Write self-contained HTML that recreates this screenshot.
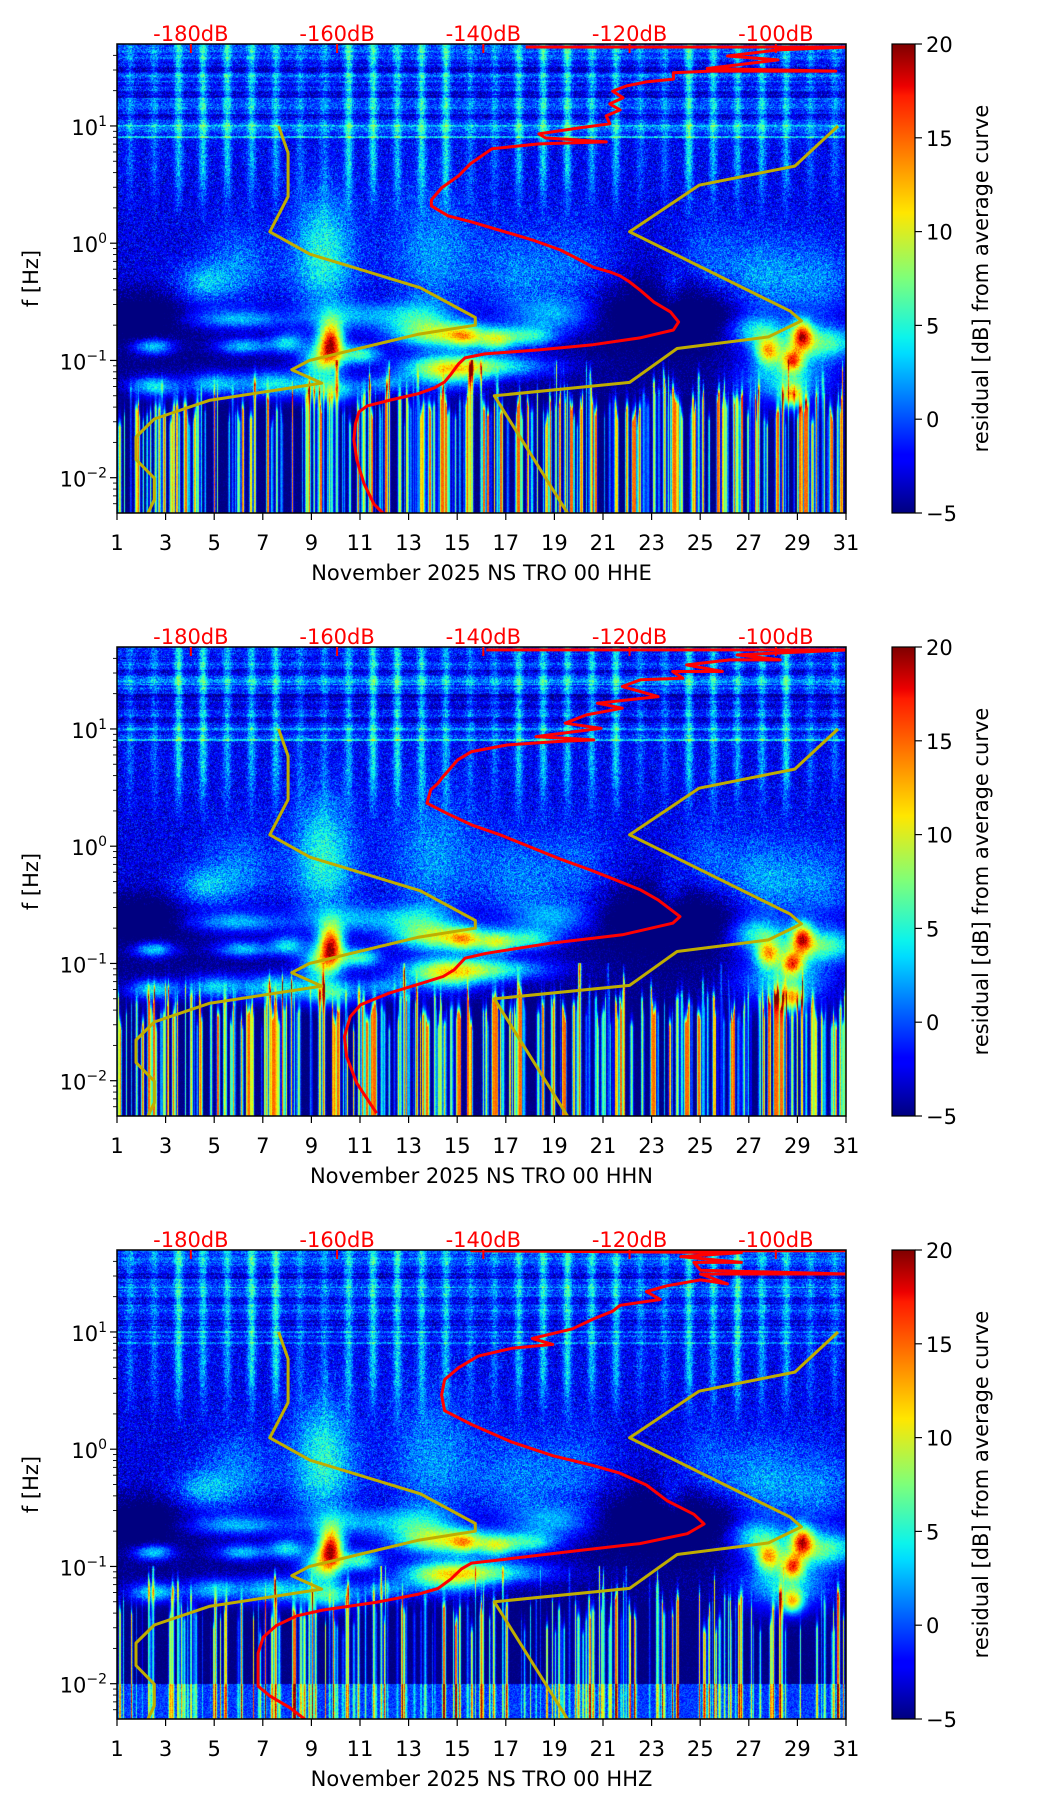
<!DOCTYPE html>
<html><head><meta charset="utf-8">
<style>
html,body{margin:0;padding:0;background:#fff;}
body{width:1052px;height:1806px;position:relative;overflow:hidden;font-family:"DejaVu Sans","Liberation Sans",sans-serif;}
canvas{position:absolute;}
svg{position:absolute;left:0;top:0;}
</style></head>
<body>
<canvas id="c0" width="729" height="469" style="left:117px;top:44px"></canvas>
<canvas id="c1" width="729" height="469" style="left:117px;top:647px"></canvas>
<canvas id="c2" width="729" height="469" style="left:117px;top:1250px"></canvas>
<svg id="svg" width="1052" height="1806" xmlns="http://www.w3.org/2000/svg">
<defs>
<linearGradient id="jet" x1="0" y1="1" x2="0" y2="0">
<stop offset="0" stop-color="#00007f"/><stop offset="0.11" stop-color="#0000ff"/><stop offset="0.125" stop-color="#0000ff"/>
<stop offset="0.34" stop-color="#00dcff"/><stop offset="0.375" stop-color="#0cf4eb"/><stop offset="0.5" stop-color="#7dff7a"/>
<stop offset="0.64" stop-color="#ffe600"/><stop offset="0.66" stop-color="#ffd600"/><stop offset="0.89" stop-color="#ff1a00"/>
<stop offset="0.91" stop-color="#ed0000"/><stop offset="1" stop-color="#7f0000"/>
</linearGradient>
</defs>
</svg>
<script>
// ---------- data ----------
const channels = ["HHE","HHN","HHZ"];
const dayTicks = [1,3,5,7,9,11,13,15,17,19,21,23,25,27,29,31];
const dbTicks = [-180,-160,-140,-120,-100];
const cbTicks = [-5,0,5,10,15,20];
const yDecades = [-2,-1,0,1];
// Peterson low / high noise models (period s, dB)
const nlnmPeriod = [0.1,0.17,0.4,0.8,1.24,2.4,4.3,5,6,10,12,15.6,21.9,31.6,45,70,101,154,328,600];
const nlnmDb = [-168.0,-166.7,-166.7,-169.2,-163.7,-148.6,-141.1,-141.1,-149.0,-163.8,-166.2,-162.1,-177.5,-185.0,-187.5,-187.5,-185.0,-185.0,-187.5,-184.4];
const nhnmPeriod = [0.1,0.22,0.32,0.8,3.8,4.6,6.3,7.9,15.4,20,354.8];
const nhnmDb = [-91.5,-97.4,-110.5,-120.0,-98.0,-96.5,-101.0,-113.5,-120.0,-138.5,-126.0];
// average PSD curves (log10 frequency, dB)
const heLogF = [-2.36,-2.224,-2.053,-1.849,-1.678,-1.541,-1.439,-1.388,-1.337,-1.285,-1.234,-1.183,-1.115,-1.03,-0.978,-0.944,-0.91,-0.866,-0.808,-0.74,-0.671,-0.586,-0.501,-0.398,-0.33,-0.279,-0.245,-0.204,-0.126,-0.057,0.028,0.113,0.182,0.233,0.318,0.369,0.472,0.574,0.676,0.806,0.847,0.864,0.898,0.932,0.983,1.018,1.086,1.137,1.188,1.24,1.297,1.342,1.376,1.4,1.454,1.468,1.468,1.49,1.563,1.597,1.649,1.673,1.673];
const heDb = [-152.8,-154.96,-156.3,-157.3,-157.7,-157.5,-157.0,-155.9,-152.7,-149.0,-146.7,-145.3,-144.4,-143.4,-142.5,-139.8,-132.4,-125.0,-118.6,-114.0,-113.3,-114.4,-116.7,-118.6,-120.0,-121.3,-122.7,-125.0,-127.3,-129.5,-133.3,-137.9,-141.6,-144.8,-147.1,-147.1,-145.7,-143.4,-141.8,-138.8,-132.4,-123.2,-131.5,-132.4,-126.9,-122.7,-123.2,-121.3,-122.7,-120.9,-122.3,-120.4,-117.7,-114.0,-114.0,-109.0,-91.8,-109.4,-99.7,-106.6,-99.7,-90.2,-134.2];
const hnLogF = [-2.277,-2.021,-1.794,-1.624,-1.453,-1.353,-1.254,-1.168,-1.111,-1.055,-0.955,-0.913,-0.827,-0.756,-0.657,-0.6,-0.458,-0.373,-0.273,-0.202,-0.102,-0.003,0.097,0.182,0.281,0.367,0.48,0.537,0.594,0.736,0.807,0.864,0.893,0.907,0.935,1.006,1.049,1.12,1.177,1.22,1.276,1.362,1.419,1.433,1.49,1.49,1.546,1.589,1.589,1.632,1.674,1.674];
const hnDb = [-154.6,-157.3,-158.7,-159.0,-158.2,-156.8,-152.9,-148.4,-145.5,-144.0,-142.5,-139.6,-130.8,-121.0,-114.1,-113.1,-116.1,-118.5,-122.5,-125.4,-129.8,-133.7,-137.7,-141.6,-145.0,-147.7,-147.2,-146.2,-145.5,-143.5,-141.6,-136.7,-129.8,-124.9,-132.8,-123.9,-128.8,-125.9,-121.0,-124.4,-116.1,-121.0,-118.5,-112.7,-114.1,-107.3,-112.2,-106.3,-99.4,-105.3,-90.1,-139.6];
const hzLogF = [-2.337,-2.204,-2.104,-2.021,-1.738,-1.604,-1.504,-1.421,-1.371,-1.304,-1.238,-1.188,-1.105,-1.021,-0.971,-0.938,-0.871,-0.805,-0.721,-0.638,-0.555,-0.438,-0.305,-0.205,-0.139,-0.055,0.061,0.211,0.328,0.461,0.594,0.694,0.794,0.861,0.894,0.944,1.027,1.11,1.177,1.227,1.277,1.344,1.394,1.444,1.41,1.494,1.494,1.527,1.593,1.593,1.643,1.677,1.693,1.693];
const hzDb = [-163.7,-166.5,-169.2,-170.8,-170.8,-170.1,-168.3,-165.5,-161.9,-154.5,-149.0,-146.2,-144.4,-143.0,-141.6,-137.0,-127.8,-118.6,-112.1,-109.8,-111.2,-114.9,-117.7,-121.3,-125.0,-130.5,-136.1,-141.6,-145.3,-145.7,-145.3,-143.4,-140.7,-136.1,-130.5,-133.3,-127.8,-125.0,-122.3,-121.3,-115.8,-117.7,-114.9,-110.3,-106.6,-110.3,-90.2,-110.3,-111.2,-104.7,-113.0,-104.7,-141.6,-90.2];
const curveLogF = [heLogF, hnLogF, hzLogF];
const curveDb = [heDb, hnDb, hzDb];

// ---------- geometry / scales ----------
const L=117, W=729, H=469, TOP0=44, STEP=603;
const LFMAX=Math.log10(50), LFMIN=Math.log10(0.005);
const DBMIN=-190.1, DBMAX=-90.4;
const CBX=892, CBW=23;
function xDay(d){return L+(d-1)*W/30;}
function yLf(top,lf){return top+(LFMAX-lf)/(LFMAX-LFMIN)*H;}
function xDb(db){return L+(db-DBMIN)/(DBMAX-DBMIN)*W;}
function yCb(top,v){return top+(20-v)/25*H;}

// ---------- spectrogram texture ----------
function rng(seed){return function(){seed|=0;seed=seed+0x6D2B79F5|0;let t=Math.imul(seed^seed>>>15,1|seed);t=t+Math.imul(t^t>>>7,61|t)^t;return((t^t>>>14)>>>0)/4294967296;};}
function jet(x){
  x=Math.max(0,Math.min(1,x));
  function seg(p){for(let i=1;i<p.length;i++){if(x<=p[i][0]){const a=p[i-1],b=p[i];return a[1]+(b[1]-a[1])*(x-a[0])/(b[0]-a[0]);}}return p[p.length-1][1];}
  return [seg([[0,0],[0.35,0],[0.66,1],[0.89,1],[1,0.5]])*255,
          seg([[0,0],[0.125,0],[0.375,1],[0.64,1],[0.91,0],[1,0]])*255,
          seg([[0,0.5],[0.11,1],[0.34,1],[0.65,0],[1,0]])*255];
}
const blobs=[
 [4.5,-0.35,0.8,0.12,5],[6,-0.2,1.0,0.25,4],[9.5,-0.25,1,0.35,5.5],[9.5,0.1,0.8,0.3,3.5],[14,-0.1,1.3,0.4,4.5],
 [17.5,-0.3,1.2,0.3,4],[20,-0.2,1,0.3,3],[23.8,-0.45,0.4,0.15,5],[25.2,-0.2,0.8,0.3,3],[27.5,-0.35,1.2,0.3,5.5],[30,-0.4,1,0.3,4],
 [24,-0.55,2,0.2,-6],[2,-0.6,1,0.15,-4],
 [2.5,-0.88,0.6,0.05,9],[6.2,-0.88,0.8,0.05,8],[8,-0.85,0.5,0.06,8],[9.8,-0.84,0.35,0.12,20],[9.4,-1.0,0.6,0.1,11],[11,-0.95,0.6,0.06,10],
 [14.5,-0.78,1.5,0.08,13],[15.3,-0.8,0.4,0.06,7],[16.6,-0.83,0.5,0.06,9],[18,-0.8,0.8,0.06,8],[16,-1.05,2,0.07,10],[13.5,-0.62,1,0.1,6],
 [27.8,-0.92,0.35,0.08,13],[29.2,-0.78,0.3,0.09,15],[28.8,-1.0,0.3,0.07,14],[30,-0.85,1.2,0.1,10],[28.8,-1.3,0.3,0.07,13],[28.5,-1.15,1.3,0.15,9],[27.3,-0.75,0.8,0.1,8],
 [2.5,-1.22,0.7,0.06,9],[5,-1.2,0.8,0.07,8],[7.5,-1.2,1,0.08,9],[9.8,-1.25,0.8,0.08,10],[12,-1.2,0.7,0.06,6],[14.5,-1.1,1.2,0.1,10],
 [6,-0.65,1.5,0.06,7],[11,-0.62,1.5,0.08,6],[19,-0.62,1.2,0.1,6]
];
function bgAt(lf){
  const p=[[-2.4,-5],[-0.6,-5],[-0.5,-4],[-0.3,-2.8],[0.3,-2.6],[0.89,-2.2],[0.9,-0.8],[1.8,-0.3]];
  for(let i=1;i<p.length;i++){if(lf<=p[i][0]){const a=p[i-1],b=p[i];return a[1]+(b[1]-a[1])*(lf-a[0])/(b[0]-a[0]);}}
  return 0;
}
function drawSpec(ch){
  const cv=document.getElementById('c'+ch), ctx=cv.getContext('2d');
  const img=ctx.createImageData(W,H), d=img.data;
  const R=rng(101+ch*17);
  const dayAt=x=>1+(x+0.5)*30/W, lfAt=y=>LFMAX-(y+0.5)*(LFMAX-LFMIN)/H;
  const rowBg=new Float32Array(H), rowBand=new Float32Array(H), rowLf=new Float32Array(H);
  let b=0;
  for(let y=0;y<H;y++){const lf=lfAt(y);rowLf[y]=lf;rowBg[y]=bgAt(lf);b=b*0.7+(R()-0.5)*2.2;rowBand[y]=lf>0.9?b:0;
    if(lf>1.24&&lf<1.3)rowBand[y]-=2.5; if(lf>1.45&&lf<1.5)rowBand[y]-=2; if(lf>1.05&&lf<1.1)rowBand[y]-=1.5;
    if(Math.abs(lf-0.905)<0.008)rowBand[y]+=3.5; if(Math.abs(lf-1.0)<0.006)rowBand[y]+=2.5; if(Math.abs(lf-1.38)<0.006)rowBand[y]+=2.5;}
  const dayAmp=[];for(let k=0;k<31;k++){const wd=(k+6)%7;dayAmp.push((wd===0||wd===6)?0.5:0.8+0.4*R());}
  const colStripe=new Float32Array(W);
  for(let x=0;x<W;x++){const dd=dayAt(x)-1;const k=Math.floor(dd);let f=dd-k-0.54;colStripe[x]=Math.exp(-(f/0.17)*(f/0.17))*dayAmp[k];}
  // streaks in low frequencies
  const nS= ch===2?220:330; const sDay=[],sW=[],sA=[],sT=[];
  for(let i=0;i<nS;i++){let dd=1+30*R();sDay.push(dd);sW.push((ch===2?0.01:0.015)+0.05*R());sA.push(4+15*Math.pow(R(),1.4));sT.push(-1.25-0.35*R()+(R()<0.15?0.3:0));}
  const cA=new Float32Array(W),cT=new Float32Array(W);
  for(let x=0;x<W;x++){const dd=dayAt(x);let sum=0,tw=0,wsum=0;
    for(let i=0;i<nS;i++){const u=(dd-sDay[i])/sW[i];if(u*u<12){const c=sA[i]*Math.exp(-u*u);sum+=c;tw+=c*sT[i];wsum+=c;}}
    cA[x]=Math.min(sum,20);cT[x]=wsum>0?tw/wsum:-2;}
  const bx=blobs.map(bl=>{const a=new Float32Array(W);for(let x=0;x<W;x++){const u=(dayAt(x)-bl[0])/bl[2];a[x]=Math.exp(-0.5*u*u)*bl[4];}return a;});
  const by=blobs.map(bl=>{const a=new Float32Array(H);for(let y=0;y<H;y++){const u=(rowLf[y]-bl[1])/bl[3];a[y]=Math.exp(-0.5*u*u);}return a;});
  const lut=[];for(let i=0;i<=255;i++)lut.push(jet(i/255));
  for(let y=0;y<H;y++){const lf=rowLf[y];const sg=Math.max(0,Math.min(1,(lf-0.15)/0.5));
    const nAmp= lf>-0.5?2.2:(lf>-1.3?1.4:0.6);
    for(let x=0;x<W;x++){
      let v=rowBg[y]+rowBand[y]+colStripe[x]*5.5*sg;
      for(let k=0;k<blobs.length;k++){const q=by[k][y];if(q>0.01)v+=bx[k][x]*q;}
      if(lf<-1.0){let fade=lf<cT[x]?1:Math.exp(-(lf-cT[x])/0.06);v+=cA[x]*fade;}
      if(ch===2&&lf<-2.0)v+=4.5+(R()-0.5)*3;
      v+=(R()+R()-1)*nAmp*1.6;
      if(v<-5)v=-5;if(v>20)v=20;
      const c=lut[Math.round((v+5)/25*255)];const o=(y*W+x)*4;
      d[o]=c[0];d[o+1]=c[1];d[o+2]=c[2];d[o+3]=255;}}
  ctx.putImageData(img,0,0);
}
[0,1,2].forEach(drawSpec);

// ---------- SVG overlay ----------
const NS='http://www.w3.org/2000/svg', svg=document.getElementById('svg');
function mk(tag,attrs,parent){const e=document.createElementNS(NS,tag);for(const k in attrs)e.setAttribute(k,attrs[k]);(parent||svg).appendChild(e);return e;}
function polyFrom(top,lfs,dbs){return lfs.map((lf,i)=>xDb(dbs[i]).toFixed(1)+','+yLf(top,lf).toFixed(1)).join(' ');}
const FS=21;
channels.forEach((chName,i)=>{
  const top=TOP0+STEP*i, bot=top+H;
  const g=mk('g',{});
  
  
  const cp=mk('clipPath',{id:'clip'+i},g); mk('rect',{x:L,y:top,width:W,height:H},cp);
  const lines=mk('g',{'clip-path':'url(#clip'+i+')'},g);
  const lo=mk('polyline',{points:nlnmPeriod.map((p,k)=>xDb(nlnmDb[k]).toFixed(1)+','+yLf(top,Math.log10(1/p)).toFixed(1)).join(' '),fill:'none',stroke:'#bfad00','stroke-width':3,'stroke-linejoin':'round'},lines);
  
  
  const hi=mk('polyline',{points:nhnmPeriod.map((p,k)=>xDb(nhnmDb[k]).toFixed(1)+','+yLf(top,Math.log10(1/p)).toFixed(1)).join(' '),fill:'none',stroke:'#bfad00','stroke-width':3,'stroke-linejoin':'round'},lines);
  
  
  const rc=mk('polyline',{points:polyFrom(top,curveLogF[i],curveDb[i]),fill:'none',stroke:'#ff0000','stroke-width':3,'stroke-linejoin':'round'},lines);
  
  
  const fr=mk('rect',{x:L,y:top,width:W,height:H,fill:'none',stroke:'#000','stroke-width':1.5},g);
  
  
  dayTicks.forEach(dv=>{const x=xDay(dv);mk('line',{x1:x,y1:bot,x2:x,y2:bot+7,stroke:'#000','stroke-width':1.2},g);
    const t=mk('text',{x:x,y:bot+37,'text-anchor':'middle','font-size':FS,fill:'#000'},g);t.textContent=dv;
    
    });
  const xl=mk('text',{x:L+W/2,y:bot+67,'text-anchor':'middle','font-size':FS,fill:'#000'},g);xl.textContent='November 2025 NS TRO 00 '+chName;
  
  
  dbTicks.forEach(db=>{const x=xDb(db);mk('line',{x1:x,y1:top,x2:x,y2:top+9,stroke:'#ff0000','stroke-width':2},g);
    const t=mk('text',{x:x,y:top-3,'text-anchor':'middle','font-size':FS,fill:'#ff0000'},g);t.textContent=db+'dB';
    
    });
  yDecades.forEach(e=>{const y=yLf(top,e);mk('line',{x1:L-7,y1:y,x2:L,y2:y,stroke:'#000','stroke-width':1.2},g);
    const t=mk('text',{x:L-10,y:y+9,'text-anchor':'end','font-size':FS,fill:'#000'},g);
    
    
    const a=mk('tspan',{},t);a.textContent='10';const s=mk('tspan',{dy:-9,'font-size':14},t);s.textContent=(e<0?'\u2212':'')+Math.abs(e);});
  for(let e=-3;e<=1;e++)for(let m=2;m<=9;m++){const lf=e+Math.log10(m);if(lf>LFMIN&&lf<LFMAX){const y=yLf(top,lf);mk('line',{x1:L-4,y1:y,x2:L,y2:y,stroke:'#000','stroke-width':0.9},g);}}
  const yl=mk('text',{x:0,y:0,'text-anchor':'middle','font-size':FS,fill:'#000',transform:'translate(38,'+(top+H/2)+') rotate(-90)'},g);yl.textContent='f [Hz]';
  
  
  const cb=mk('rect',{x:CBX,y:top,width:CBW,height:H,fill:'url(#jet)',stroke:'#000','stroke-width':1.2},g);
  
  
  cbTicks.forEach(v=>{const y=yCb(top,v);mk('line',{x1:CBX+CBW,y1:y,x2:CBX+CBW+7,y2:y,stroke:'#000','stroke-width':1.2},g);
    const t=mk('text',{x:CBX+CBW+11,y:y+8,'font-size':FS,fill:'#000'},g);t.textContent=v<0?'\u2212'+Math.abs(v):v;
    
    });
  const cl=mk('text',{x:0,y:0,'text-anchor':'middle','font-size':FS,fill:'#000',transform:'translate(988,'+(top+H/2)+') rotate(-90)'},g);cl.textContent='residual [dB] from average curve';
  
  
});
</script>
</body></html>
